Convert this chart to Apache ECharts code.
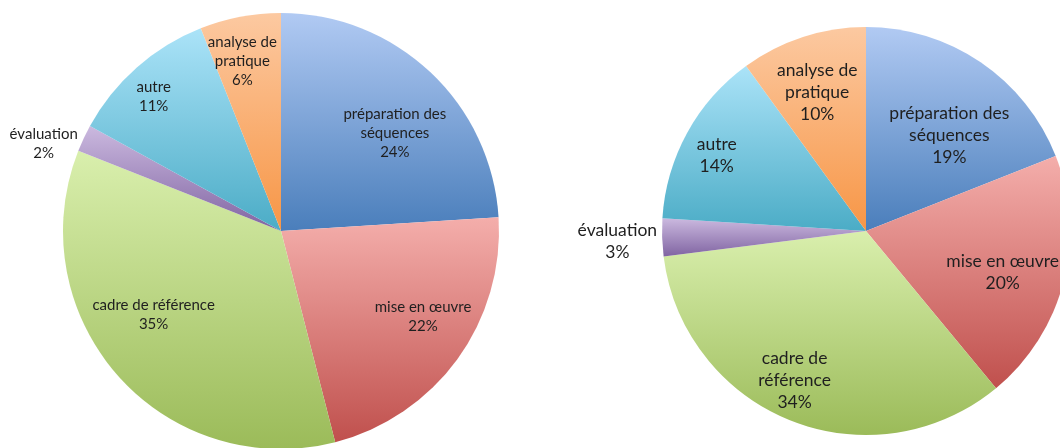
<!DOCTYPE html>
<html>
<head>
<meta charset="utf-8">
<script src="https://cdn.jsdelivr.net/npm/echarts@6/dist/echarts.min.js"></script>
<style>
  html, body { margin: 0; padding: 0; background: #ffffff; }
  #chart { width: 1060px; height: 448px; }
</style>
</head>
<body>
<div id="chart"></div>
<script>
// Time-use breakdown, two groups, shares in percent
const categories = ['préparation des séquences', 'mise en œuvre', 'cadre de référence', 'évaluation', 'autre', 'analyse de pratique'];
const valuesLeft = [24, 22, 35, 2, 11, 6];
const valuesRight = [19, 20, 34, 3, 14, 10];

// Slice fills: light top, darker bottom
const sliceColors = [
  ['#b1caf3', '#4a7ebb'],
  ['#f4aeab', '#c0504d'],
  ['#d9efad', '#9bbb59'],
  ['#cbb9df', '#8064a2'],
  ['#abe3f8', '#4bacc6'],
  ['#fcc9a1', '#f79646']
];

// Per-pie geometry and label placement ([radius ratio, angle shift in degrees])
const pies = [
  {
    values: valuesLeft, center: [281, 231], radius: 218, fontSize: 15, lineHeight: 19,
    wrap: { 'préparation des séquences': 'préparation des\nséquences', 'analyse de pratique': 'analyse de\npratique' },
    place: [[0.69, 6], [0.76, -5], [0.70, 8], [1.16, -5], [0.85, -2], [0.80, -2]]
  },
  {
    values: valuesRight, center: [866, 231], radius: 204, fontSize: 17.5, lineHeight: 22,
    wrap: { 'préparation des séquences': 'préparation des\nséquences', 'analyse de pratique': 'analyse de\npratique', 'cadre de référence': 'cadre de\nréférence' },
    place: [[0.62, 7], [0.70, 2.4], [0.81, 4], [1.22, -0.7], [0.82, -2], [0.72, -1.4]]
  }
];

function gradient(i) {
  return new echarts.graphic.LinearGradient(0, 0, 0, 1, [
    { offset: 0, color: sliceColors[i][0] },
    { offset: 1, color: sliceColors[i][1] }
  ]);
}

function midAngles(values) {
  const total = values.reduce((a, b) => a + b, 0);
  let acc = 0;
  return values.map(v => {
    const mid = (acc + v / 2) / total * 360;
    acc += v;
    return mid;
  });
}

const chart = echarts.init(document.getElementById('chart'), null, { renderer: 'canvas' });

const series = pies.map(p => {
  const mids = midAngles(p.values);
  return {
    type: 'pie',
    center: p.center,
    radius: [0, p.radius],
    startAngle: 90,
    clockwise: true,
    silent: true,
    animation: false,
    data: categories.map((name, i) => ({
      name: name,
      value: p.values[i],
      itemStyle: { color: gradient(i) }
    })),
    itemStyle: { borderWidth: 0 },
    label: {
      show: true,
      position: 'inside',
      color: '#1f1f1f',
      fontFamily: 'Lato, "Open Sans", sans-serif',
      fontSize: p.fontSize,
      lineHeight: p.lineHeight,
      align: 'center',
      formatter: params => (p.wrap[params.name] || params.name) + '\n' + params.value + '%'
    },
    labelLine: { show: false },
    labelLayout: params => {
      const pl = p.place[params.dataIndex];
      const a = (mids[params.dataIndex] + pl[1]) * Math.PI / 180;
      const r = p.radius * pl[0];
      return {
        x: p.center[0] + r * Math.sin(a),
        y: p.center[1] - r * Math.cos(a),
        align: 'center',
        verticalAlign: 'middle'
      };
    }
  };
});

chart.setOption({
  backgroundColor: '#ffffff',
  animation: false,
  series: series
});
</script>
</body>
</html>
